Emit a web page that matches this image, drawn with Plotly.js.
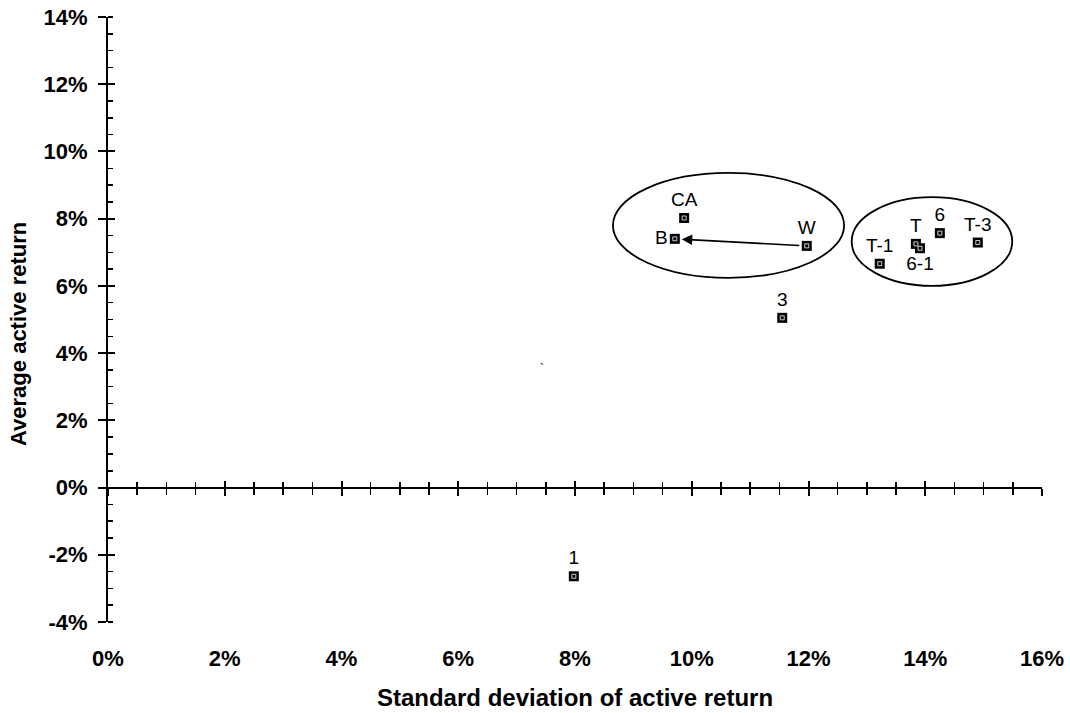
<!DOCTYPE html>
<html>
<head>
<meta charset="utf-8">
<script src="https://cdn.plot.ly/plotly-3.0.1.min.js"></script>
<style>html,body{margin:0;padding:0;background:#fff;}#chart{width:1070px;height:713px;}</style>
</head>
<body>
<div id="chart"></div>
<script>
// Data (percent)
var names = ['CA', 'B', 'W', '3', 'T-1', 'T', '6-1', '6', 'T-3', '1'];
var stdDev = [9.87, 9.71, 11.97, 11.55, 13.22, 13.84, 13.91, 14.25, 14.90, 7.98];
var avgReturn = [8.02, 7.40, 7.19, 5.05, 6.66, 7.25, 7.12, 7.57, 7.29, -2.64];
var xTickVals = [0, 2, 4, 6, 8, 10, 12, 14, 16];
var yTickVals = [-4, -2, 0, 2, 4, 6, 8, 10, 12, 14];
// group outlines (ellipses) in data units
var groupA = {sd: [8.65, 12.61], ret: [6.24, 9.36]};
var groupB = {sd: [12.74, 15.49], ret: [6.00, 8.64]};
// arrow: from W to B
var arrowFrom = 'W', arrowTo = 'B';
// stray mark
var strayMark = {sd: 7.44, ret: 3.53, text: '`'};
var xTitle = 'Standard deviation of active return';
var yTitle = 'Average active return';

// styles
var labelPos = ['top center', 'middle left', 'top center', 'top center', 'top center',
                'top center', 'bottom center', 'top center', 'top center', 'top center'];
var FONT = 'Liberation Sans, Arial, sans-serif';

function pct(v) { return v + '%'; }

var traces = [
  {
    x: stdDev, y: avgReturn, text: names, mode: 'markers+text', type: 'scatter',
    textposition: labelPos, textfont: {family: FONT, size: 19, color: '#000'},
    marker: {symbol: 'square', size: 10, color: '#000', line: {width: 0}},
    hoverinfo: 'skip', showlegend: false, cliponaxis: false
  },
  {
    x: stdDev, y: avgReturn, mode: 'markers', type: 'scatter',
    marker: {symbol: 'square-open', size: 4, color: '#fff', line: {width: 0.8, color: '#fff'}},
    hoverinfo: 'skip', showlegend: false, cliponaxis: false
  },
  {x: [], y: [], xaxis: 'x2', yaxis: 'y', type: 'scatter', mode: 'markers', showlegend: false, hoverinfo: 'skip'},
  {x: [], y: [], xaxis: 'x3', yaxis: 'y', type: 'scatter', mode: 'markers', showlegend: false, hoverinfo: 'skip'},
  {x: [], y: [], xaxis: 'x', yaxis: 'y2', type: 'scatter', mode: 'markers', showlegend: false, hoverinfo: 'skip'}
];

var yZeroFrac = (0 - (-4)) / (14 - (-4));

var iFrom = names.indexOf(arrowFrom), iTo = names.indexOf(arrowTo);

var layout = {
  width: 1070, height: 713,
  margin: {l: 108, r: 28, t: 17, b: 91, pad: 0},
  paper_bgcolor: '#fff', plot_bgcolor: '#fff',
  font: {family: FONT, color: '#000'},
  showlegend: false,
  xaxis: {
    range: [0, 16], showgrid: false, zeroline: false, showline: false,
    ticks: '', tickvals: xTickVals, ticktext: xTickVals.map(pct),
    tickfont: {family: FONT, size: 22, color: '#000', weight: 'bold'},
    ticklabelstandoff: 21,
    title: {text: xTitle, font: {family: FONT, size: 24, color: '#000', weight: 'bold'}, standoff: 19}
  },
  xaxis2: {
    range: [0, 16], overlaying: 'x', anchor: 'free', position: yZeroFrac,
    showgrid: false, zeroline: false, showline: true, linecolor: '#000', linewidth: 2,
    ticks: 'outside', ticklen: 7, tickwidth: 2, tickcolor: '#000', tickvals: xTickVals,
    showticklabels: false,
    minor: {dtick: 0.5, ticks: 'outside', ticklen: 6, tickwidth: 1.5, tickcolor: '#000'}
  },
  xaxis3: {
    range: [0, 16], overlaying: 'x', anchor: 'free', position: yZeroFrac,
    showgrid: false, zeroline: false, showline: false,
    ticks: 'inside', ticklen: 7, tickwidth: 2, tickcolor: '#000', tickvals: xTickVals,
    showticklabels: false,
    minor: {dtick: 0.5, ticks: 'inside', ticklen: 6, tickwidth: 1.5, tickcolor: '#000'}
  },
  yaxis: {
    range: [-4, 14], showgrid: false, zeroline: false,
    showline: true, linecolor: '#000', linewidth: 2,
    ticks: 'outside', ticklen: 8, tickwidth: 2, tickcolor: '#000',
    tickvals: yTickVals, ticktext: yTickVals.map(pct),
    tickfont: {family: FONT, size: 22, color: '#000', weight: 'bold'},
    ticklabelstandoff: 6,
    minor: {dtick: 0.5, ticks: 'inside', ticklen: 5, tickwidth: 1.5, tickcolor: '#000'}
  },
  yaxis2: {
    range: [-4, 14], overlaying: 'y', side: 'left', anchor: 'x',
    showgrid: false, zeroline: false, showline: false,
    ticks: 'inside', ticklen: 7, tickwidth: 2, tickcolor: '#000', tickvals: yTickVals,
    showticklabels: false
  },
  shapes: [
    {type: 'circle', xref: 'x', yref: 'y', x0: groupA.sd[0], x1: groupA.sd[1], y0: groupA.ret[0], y1: groupA.ret[1],
     line: {color: '#000', width: 1.8}, fillcolor: 'rgba(0,0,0,0)'},
    {type: 'circle', xref: 'x', yref: 'y', x0: groupB.sd[0], x1: groupB.sd[1], y0: groupB.ret[0], y1: groupB.ret[1],
     line: {color: '#000', width: 1.8}, fillcolor: 'rgba(0,0,0,0)'}
  ],
  annotations: [
    {x: stdDev[iTo], y: avgReturn[iTo], ax: stdDev[iFrom], ay: avgReturn[iFrom],
     xref: 'x', yref: 'y', axref: 'x', ayref: 'y', text: '', showarrow: true,
     arrowhead: 2, arrowsize: 1.3, arrowwidth: 1.6, arrowcolor: '#000', standoff: 7, startstandoff: 6},
    {x: strayMark.sd, y: strayMark.ret, xref: 'x', yref: 'y', text: strayMark.text, showarrow: false,
     font: {family: FONT, size: 12, color: '#000'}},
    {x: -0.0964, y: 0.476, xref: 'paper', yref: 'paper', text: yTitle, showarrow: false, textangle: -90,
     xanchor: 'center', yanchor: 'middle', font: {family: FONT, size: 22, color: '#000', weight: 'bold'}}
  ]
};

Plotly.newPlot('chart', traces, layout, {displayModeBar: false, staticPlot: true});
</script>
</body>
</html>
